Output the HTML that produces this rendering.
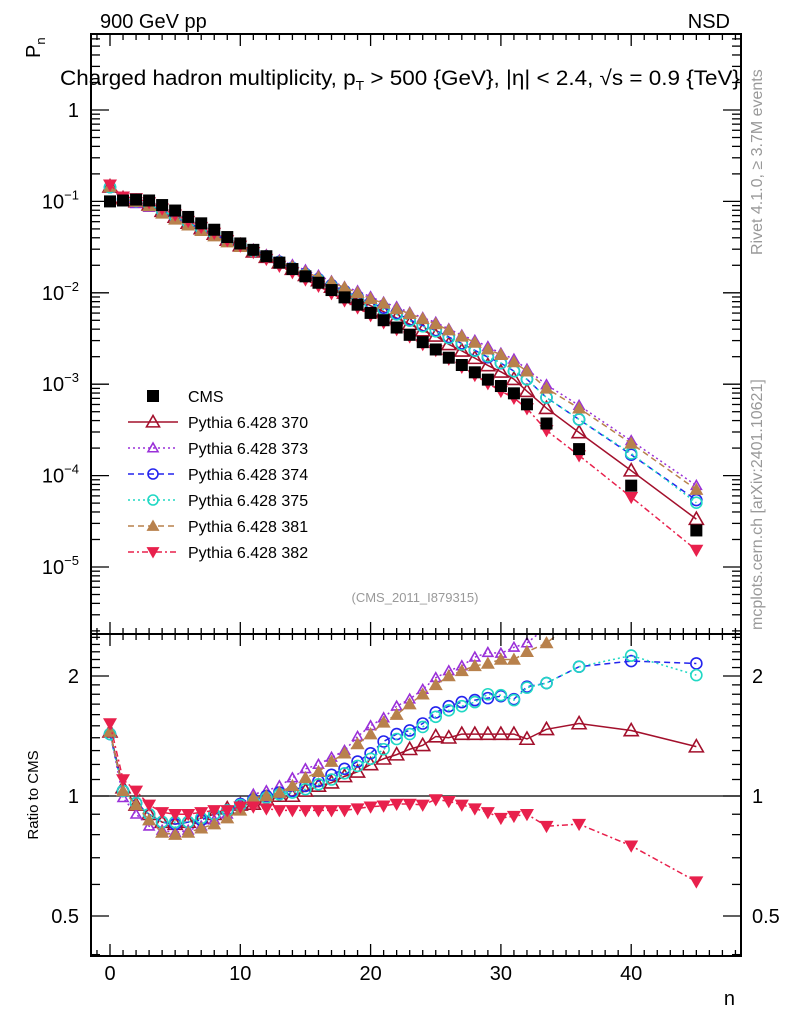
<!DOCTYPE html>
<html><head><meta charset="utf-8"><style>
body{margin:0;background:#fff}
svg{display:block;font-family:"Liberation Sans",sans-serif}
</style></head><body>
<svg id="c" width="786" height="1024" viewBox="0 0 786 1024" xmlns="http://www.w3.org/2000/svg">
<rect width="786" height="1024" fill="#fff"/>
<g id="g"></g>
<text x="100" y="28" font-size="20">900 GeV pp</text>
<text x="730" y="28" font-size="20" text-anchor="end">NSD</text>
<text x="60" y="85" font-size="21" textLength="680" lengthAdjust="spacingAndGlyphs">Charged hadron multiplicity, p<tspan font-size="13" dy="5">T</tspan><tspan dy="-5"> &gt; 500 {GeV}, |η| &lt; 2.4, √s = 0.9 {TeV}</tspan></text>
<text x="0" y="0" font-size="20" transform="translate(40,58) rotate(-90)">P<tspan font-size="13" dy="5">n</tspan></text>
<text x="0" y="0" font-size="15" text-anchor="middle" transform="translate(38,795) rotate(-90)">Ratio to CMS</text>
<text x="735" y="1005" font-size="20" text-anchor="end">n</text>
<text x="0" y="0" font-size="16" fill="#999" transform="translate(762,255) rotate(-90)">Rivet 4.1.0, ≥ 3.7M events</text>
<text x="0" y="0" font-size="16" fill="#999" transform="translate(762,630) rotate(-90)">mcplots.cern.ch [arXiv:2401.10621]</text>
<text x="415" y="602" font-size="13" fill="#999" text-anchor="middle">(CMS_2011_I879315)</text>
</svg>
<script>
const nVals=[0,1,2,3,4,5,6,7,8,9,10,11,12,13,14,15,16,17,18,19,20,21,22,23,24,25,26,27,28,29,30,31,32,33.5,36,40,45];
const cmsLog=[-1.00,-0.99,-0.98,-0.99,-1.04,-1.10,-1.17,-1.24,-1.31,-1.39,-1.46,-1.53,-1.60,-1.67,-1.74,-1.82,-1.89,-1.97,-2.05,-2.13,-2.22,-2.30,-2.38,-2.46,-2.54,-2.62,-2.71,-2.79,-2.87,-2.95,-3.02,-3.10,-3.22,-3.43,-3.71,-4.11,-4.60];
const r370=[1.45,1.05,0.95,0.90,0.86,0.85,0.86,0.88,0.90,0.93,0.95,0.955,0.98,1.0,1.0,1.03,1.06,1.08,1.12,1.15,1.20,1.24,1.27,1.31,1.34,1.41,1.40,1.43,1.43,1.43,1.43,1.43,1.39,1.47,1.52,1.46,1.33];
const r373=[1.45,0.99,0.90,0.84,0.82,0.81,0.82,0.84,0.87,0.90,0.95,1.01,1.03,1.06,1.11,1.17,1.2,1.25,1.30,1.41,1.50,1.57,1.68,1.75,1.85,1.98,2.06,2.12,2.23,2.29,2.28,2.36,2.42,2.65,3.0,3.1,3.1];
const r374=[1.43,1.03,0.96,0.90,0.86,0.85,0.86,0.87,0.90,0.92,0.955,0.98,1.0,1.02,1.03,1.06,1.09,1.13,1.17,1.22,1.28,1.37,1.43,1.46,1.52,1.62,1.68,1.72,1.74,1.76,1.78,1.75,1.88,1.92,2.11,2.18,2.15];
const r375=[1.43,1.03,0.96,0.90,0.86,0.86,0.86,0.88,0.90,0.92,0.95,0.97,0.99,1.01,1.02,1.04,1.07,1.10,1.14,1.19,1.24,1.31,1.39,1.43,1.49,1.58,1.64,1.68,1.72,1.80,1.79,1.74,1.87,1.92,2.11,2.25,2.01];
const r381=[1.45,1.03,0.95,0.87,0.81,0.80,0.81,0.83,0.85,0.88,0.92,0.99,1.0,1.02,1.06,1.11,1.15,1.22,1.28,1.35,1.43,1.53,1.60,1.70,1.80,1.90,2.0,2.06,2.12,2.15,2.2,2.2,2.3,2.42,2.8,2.9,2.8];
const r382=[1.52,1.10,1.03,0.95,0.91,0.90,0.90,0.91,0.92,0.92,0.94,0.94,0.93,0.92,0.92,0.92,0.92,0.92,0.92,0.93,0.94,0.945,0.955,0.955,0.95,0.98,0.97,0.95,0.93,0.91,0.88,0.89,0.90,0.84,0.85,0.75,0.61];
const xTicks=[0,10,20,30,40];
const topTicks=[0,-1,-2,-3,-4,-5];
const ratioTicks=[0.5,1,2];

const NS="http://www.w3.org/2000/svg",G=document.getElementById('g');
const L=91,R=741,T1=34,B1=634,B2=956;
const X=n=>110+n*13.03;
const Y1=lg=>110-lg*91.4;
const Y2=r=>796-120*Math.log2(r);
function el(t,a,p){const e=document.createElementNS(NS,t);for(const k in a)e.setAttribute(k,a[k]);(p||G).appendChild(e);return e;}
const series=[
 {id:'370',r:r370,c:'#a3102c',dash:'',m:'tri',fill:false},
 {id:'373',r:r373,c:'#9a30d8',dash:'2,3',m:'tri',fill:false,s:5},
 {id:'374',r:r374,c:'#2424ee',dash:'6,4',m:'circ',fill:false},
 {id:'375',r:r375,c:'#20d8c4',dash:'2,3',m:'circ',fill:false},
 {id:'381',r:r381,c:'#b8814c',dash:'6,4',m:'tri',fill:true},
 {id:'382',r:r382,c:'#e8204c',dash:'6,3,2,3',m:'itri',fill:true}];
function marker(m,x,y,c,fill,parent,s){
 s=s||7;let e;
 if(m==='tri')e=el('polygon',{points:`${x},${y-s} ${x-s},${y+s*0.75} ${x+s},${y+s*0.75}`},parent);
 else if(m==='itri')e=el('polygon',{points:`${x},${y+s} ${x-s},${y-s*0.75} ${x+s},${y-s*0.75}`},parent);
 else if(m==='circ')e=el('circle',{cx:x,cy:y,r:s-1.5},parent);
 else e=el('rect',{x:x-6,y:y-6,width:12,height:12},parent);
 e.setAttribute('fill',fill?c:'#fff');e.setAttribute('fill-opacity',fill?1:0);
 e.setAttribute('stroke',c);e.setAttribute('stroke-width',fill?0:1.6);
 return e;}
const defs=el('defs',{});
const c1=el('clipPath',{id:'cp1'},defs);el('rect',{x:L,y:T1,width:R-L,height:B1-T1},c1);
const c2=el('clipPath',{id:'cp2'},defs);el('rect',{x:L,y:B1,width:R-L,height:B2-B1},c2);
const topG=el('g',{'clip-path':'url(#cp1)'});


const botG=el('g',{'clip-path':'url(#cp2)'});


el('line',{x1:L,x2:R,y1:Y2(1),y2:Y2(1),stroke:'#000','stroke-width':1.2},botG);
series.forEach(s=>{
 const ptsTop=nVals.map((n,i)=>[X(n),Y1(cmsLog[i]+Math.log10(s.r[i]))]);
 const ptsBot=nVals.map((n,i)=>[X(n),Y2(s.r[i])]);
 [[ptsTop,topG],[ptsBot,botG]].forEach(([pts,p])=>{
  const pl=el('polyline',{points:pts.map(q=>q.join(',')).join(' '),fill:'none',stroke:s.c,'stroke-width':1.5,'stroke-dasharray':s.dash},p);
  
  
  pts.forEach(q=>{const m=marker(s.m,q[0],q[1],s.c,s.fill,p,s.s);
   
   });
 });
});
nVals.forEach((n,i)=>{const m=marker('sq',X(n),Y1(cmsLog[i]),'#000',true,topG);
 
 });
[[T1,B1],[B1,B2]].forEach(([a,b])=>{const f=el('rect',{x:L,y:a,width:R-L,height:b-a,fill:'none',stroke:'#000','stroke-width':2});
 
 });
for(let n=-1;n<=48;n++){const maj=n%10===0,len=maj?12:6;
 [[T1,1],[B1,-1],[B1,1],[B2,-1]].forEach(([y,d])=>el('line',{x1:X(n),x2:X(n),y1:y,y2:y+d*len,stroke:'#000','stroke-width':1.3}));}
xTicks.forEach(n=>{const t=el('text',{x:X(n),y:980,'font-size':20,'text-anchor':'middle'});t.textContent=n;
 
 });
for(let d=1;d>=-6;d--)for(let k=1;k<=9;k++){const y=Y1(d+Math.log10(k));if(y<T1||y>B1)continue;const len=k===1?18:9;
 el('line',{x1:L,x2:L+len,y1:y,y2:y,stroke:'#000','stroke-width':1.3});el('line',{x1:R,x2:R-len,y1:y,y2:y,stroke:'#000','stroke-width':1.3});}
topTicks.forEach(d=>{const t=el('text',{x:79,y:Y1(d)+7,'font-size':20,'text-anchor':'end'});
 if(d===0)t.textContent='1';else{t.textContent='10';const ts=el('tspan',{dy:-9,'font-size':13},t);ts.textContent='−'+(-d);}
 
 });
[0.4,0.5,0.6,0.7,0.8,0.9,1,1.1,1.2,1.3,1.4,1.5,1.6,1.7,1.8,1.9,2,2.1,2.2,2.3,2.4,2.5].forEach(r=>{const y=Y2(r);if(y<B1||y>B2)return;
 const len=ratioTicks.includes(r)?18:9;el('line',{x1:L,x2:L+len,y1:y,y2:y,stroke:'#000','stroke-width':1.3});el('line',{x1:R,x2:R-len,y1:y,y2:y,stroke:'#000','stroke-width':1.3});});
ratioTicks.forEach(r=>{[[79,'end'],[752,'start']].forEach(([x,a])=>{const t=el('text',{x:x,y:Y2(r)+7,'font-size':20,'text-anchor':a});t.textContent=r;
 
 });});
const lg=el('g',{});


let ly=396;
{marker('sq',153,ly,'#000',true,lg);const t=el('text',{x:188,y:ly+6,'font-size':16},lg);t.textContent='CMS';
 
 }
series.forEach((s,i)=>{const y=ly+26*(i+1);
 el('line',{x1:128,x2:178,y1:y,y2:y,stroke:s.c,'stroke-width':1.5,'stroke-dasharray':s.dash},lg);
 marker(s.m,153,y,s.c,s.fill,lg,s.s||6.5);
 const t=el('text',{x:188,y:y+6,'font-size':16},lg);t.textContent='Pythia 6.428 '+s.id;
 
 });
</script>
</body></html>
